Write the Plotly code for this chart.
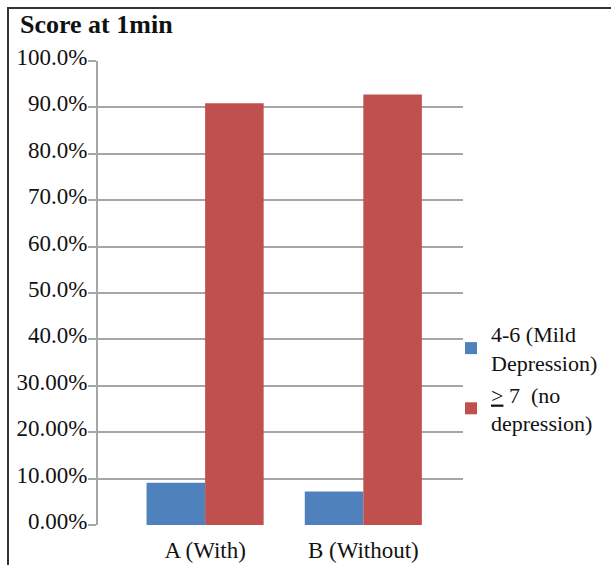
import plotly.graph_objects as go

# Apgar score at 1 minute, share of newborns per group
categories = ["A (With)", "B (Without)"]
series_names = ["4-6 (Mild<br>Depression)", "<u>></u> 7  (no<br>depression)"]
mild_values = [9.1, 7.2]
none_values = [90.9, 92.8]
series_colors = ["#4F81BD", "#C0504D"]

tick_vals = [0, 10, 20, 30, 40, 50, 60, 70, 80, 90, 100]
tick_text = ["0.00%", "10.00%", "20.00%", "30.00%", "40.0%", "50.0%",
             "60.0%", "70.0%", "80.0%", "90.0%", "100.0%"]

FONT = "Times New Roman, Liberation Serif, serif"

W, H = 611, 565
L, R, T, B = 98, 148, 61, 40
plot_w = W - L - R
plot_h = H - T - B

fig = go.Figure()
for name, vals, col in zip(series_names, [mild_values, none_values], series_colors):
    fig.add_trace(go.Bar(x=categories, y=vals, name=name, marker_color=col,
                         marker_line_width=0))

# outer frame on the left and top edges
fx0 = (8 - L) / plot_w
fx1 = (W + 20 - L) / plot_w
fy1 = (H - B - 8) / plot_h
fy0 = (H - B - H - 20) / plot_h

fig.update_layout(
    width=W, height=H,
    margin=dict(l=L, r=R, t=T, b=B, autoexpand=False),
    paper_bgcolor="white", plot_bgcolor="white",
    barmode="group", bargap=0.26, bargroupgap=0,
    font=dict(family=FONT, size=23, color="#111111"),
    showlegend=True,
    legend=dict(x=(451 - L) / plot_w, y=(H - B - 313) / plot_h,
                xanchor="left", yanchor="top",
                font=dict(family=FONT, size=22, color="#111111"),
                bgcolor="rgba(0,0,0,0)", itemwidth=30, tracegroupgap=0),
    xaxis=dict(range=[-0.677, 1.63], showgrid=False, showline=False,
               ticks="", ticklabelstandoff=9, automargin=False,
               tickfont=dict(family=FONT, size=23), zeroline=False),
    yaxis=dict(range=[0, 100], tickvals=tick_vals, ticktext=tick_text,
               showgrid=True, gridcolor="#A6A6A6", gridwidth=2,
               showline=True, linecolor="#A6A6A6", linewidth=2,
               ticks="outside", ticklen=8, tickcolor="#A6A6A6", tickwidth=2,
               ticklabelstandoff=-4, ticklabelshift=-4, automargin=False,
               tickfont=dict(family=FONT, size=23), zeroline=False),
    annotations=[dict(text="<b>Score at 1min</b>", xref="paper", yref="paper",
                      x=(18 - L) / plot_w, y=(H - B - 25) / plot_h,
                      xanchor="left", yanchor="middle", showarrow=False,
                      font=dict(family=FONT, size=26, color="#111111"))],
    shapes=[dict(type="rect", xref="paper", yref="paper",
                 x0=fx0, x1=fx1, y0=fy0, y1=fy1,
                 line=dict(color="#333333", width=2))],
)

fig.write_html("out.html")
